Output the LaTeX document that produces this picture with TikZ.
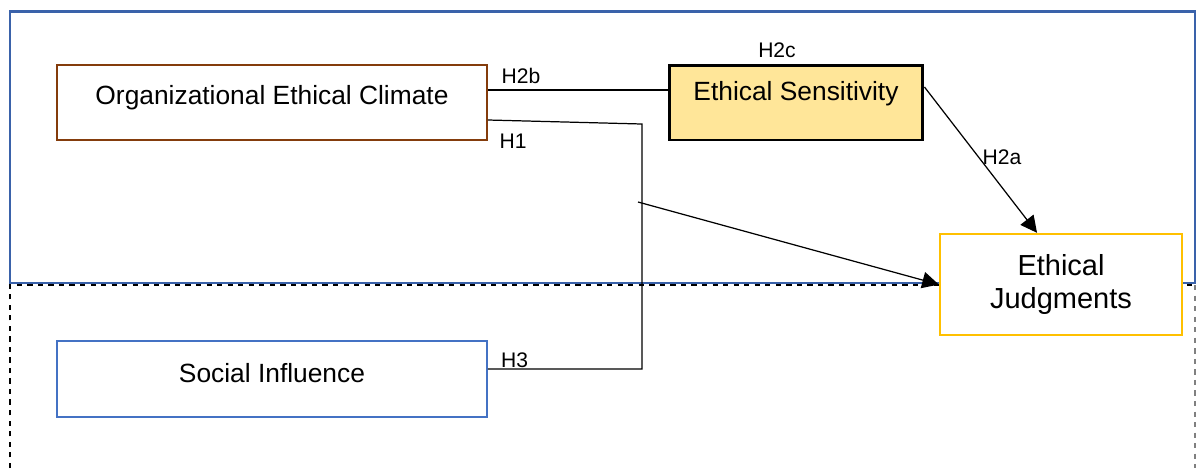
\documentclass[tikz,border=0pt]{standalone}
\usepackage{fontspec}
\setmainfont{Liberation Sans}
\usetikzlibrary{positioning,arrows.meta}
\definecolor{frameblue}{RGB}{58,98,170}
\definecolor{climatebrown}{RGB}{132,60,12}
\definecolor{sensfill}{RGB}{255,230,153}
\definecolor{judggold}{RGB}{255,192,0}
\definecolor{socialblue}{RGB}{68,114,196}

\begin{document}
\begin{tikzpicture}[x=0.02cm,y=-0.02cm,
  box/.style={draw,fill=white,line width=1.1pt,minimum width=8.6cm,minimum height=1.5cm,font=\fontsize{15}{18}\selectfont,text height=10.5pt},
  hyp/.style={font=\fontsize{12}{14}\selectfont,inner sep=0pt},
  link/.style={line width=0.7pt},
  tip/.style={-{Triangle[length=3.3mm,width=3.3mm]}}]
\useasboundingbox (0,0) rectangle (1196,468);
% the two regions
\draw[frameblue,line width=1.4pt] (10,11.5) rectangle (1195,283);
\draw[dashed,line width=0.9pt] (10,468) -- (10,285) -- (1195,285);
\draw[gray,dashed,line width=0.7pt] (1195,285) -- (1195,468);
% constructs
\node[box,draw=climatebrown,text depth=8.2pt] (oec) at (272,102.5) {Organizational Ethical Climate};
\node[box,fill=sensfill,line width=1.7pt,minimum width=5.08cm,text depth=12.7pt] (es) at (796,102.5) {Ethical Sensitivity};
\node[box,draw=judggold,line width=1.4pt,minimum width=4.84cm,minimum height=2.02cm,text height={},align=center,font=\fontsize{16.5}{19}\selectfont] (ej) at (1061,284.5) {Ethical\\Judgments};
\node[box,draw=socialblue,minimum height=1.52cm,text depth=6.9pt] (si) at (272,379) {Social Influence};
% paths
\coordinate (h1turn) at (642,124);
\coordinate (h1from) at (638,202);
\draw[link] ([yshift=0.25cm]oec.east) -- ([yshift=0.25cm]oec.east -| es.west);
\draw[link] ([yshift=-0.35cm]oec.east) -- (h1turn) |- ([yshift=0.2cm]si.east);
\draw[link,tip] (h1from) -- (ej.west);
\draw[link,tip] ([yshift=0.31cm]es.east) -- ([xshift=-0.48cm]ej.north);
% hypotheses
\node[hyp] (h2b) at (521,76) {H2b};
\node[hyp] (h1) at (513,141) {H1};
\node[hyp] (h2c) at (777,50) {H2c};
\node[hyp] (h2a) at (1002,157) {H2a};
\node[hyp] (h3) at (514.5,360) {H3};
\end{tikzpicture}
\end{document}
